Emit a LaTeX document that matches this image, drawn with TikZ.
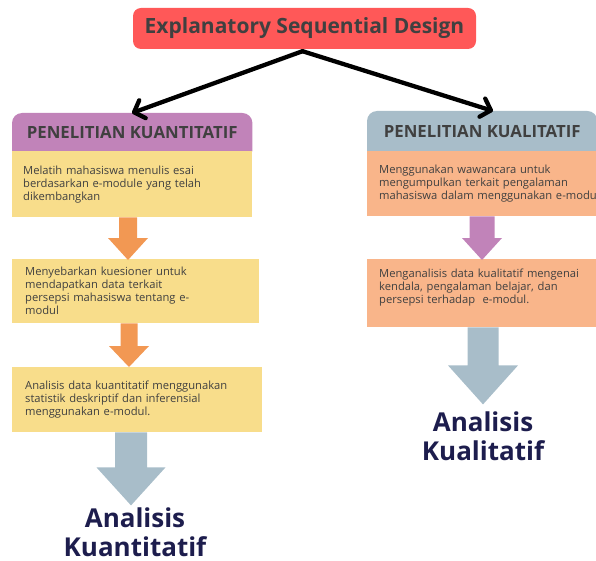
\documentclass[tikz,border=0pt]{standalone}
\usepackage{fontspec}
\setmainfont{Open Sans}
\usetikzlibrary{calc,arrows.meta,backgrounds}
\definecolor{titlered}{HTML}{FF5858}
\definecolor{txtgray}{HTML}{404040}
\definecolor{purp}{HTML}{C183B9}
\definecolor{yel}{HTML}{F8DD8B}
\definecolor{bluegray}{HTML}{A8BDC9}
\definecolor{peach}{HTML}{F9B58A}
\definecolor{orangearr}{HTML}{F29853}
\definecolor{navy}{HTML}{1D1D4D}
\newcommand{\blockarrow}[6]{%
  \fill[#6] let \p1=(#1),\p2=(#2) in
    (\x2-#3pt,\y1) -- (\x2+#3pt,\y1) -- (\x2+#3pt,\y2+#5pt) -- (\x2+#4pt,\y2+#5pt)
    -- (\x2,\y2) -- (\x2-#4pt,\y2+#5pt) -- (\x2-#3pt,\y2+#5pt) -- cycle;}
\tikzset{
  titlebox/.style={fill=titlered, rounded corners=8pt, text=txtgray,
    font=\fontsize{21}{24}\selectfont\bfseries, inner sep=0pt},
  hdrtext/.style={text=txtgray, font=\fontsize{16.8}{19}\selectfont\bfseries,
    inner sep=0pt, anchor=north west},
  stepbox/.style={anchor=north west, align=left, text=txtgray,
    font=\fontsize{11.2}{13}\selectfont, inner ysep=0pt},
  bigtxt/.style={text=navy, font=\fontsize{26}{28.5}\selectfont\bfseries, align=center, inner sep=0pt},
  mainarrow/.style={line width=4.3pt, line cap=round, line join=round,
    -{Straight Barb[length=9pt,width=19pt,line cap=round,line join=round]}}
}
\begin{document}
\begin{tikzpicture}[x=1pt,y=-1pt]
\useasboundingbox (0,0) rectangle (596,561);
\clip (0,0) rectangle (596,561);

% title
\node[titlebox, minimum width=343pt, minimum height=41pt] (title) at (304.5,28.5) {Explanatory Sequential Design};

% headers
\node[hdrtext, minimum width=240pt, minimum height=38pt] (lh) at (12,113) {PENELITIAN KUANTITATIF};
\node[hdrtext, minimum width=230pt, minimum height=40pt] (rh) at (367,111) {PENELITIAN KUALITATIF};
\begin{scope}[on background layer]
\fill[purp] (lh.south west) [rounded corners=10pt] -- (lh.north west) -- (lh.north east) [sharp corners] -- (lh.south east) -- cycle;
\fill[bluegray] (rh.south west) [rounded corners=10pt] -- (rh.north west) -- (rh.north east) [sharp corners] -- (rh.south east) -- cycle;
\end{scope}

% left column
\node[stepbox, fill=yel, inner xsep=11pt, text width=218pt, minimum height=66pt] (l1) at (12,151)
  {Melatih mahasiswa menulis esai\\berdasarkan e-module yang telah\\dikembangkan};
\node[stepbox, fill=yel, inner xsep=13pt, text width=221pt, minimum height=64pt] (l2) at (12,259)
  {Menyebarkan kuesioner untuk\\mendapatkan data terkait\\persepsi mahasiswa tentang e-\\modul};
\node[stepbox, fill=yel, inner xsep=13pt, text width=224pt, minimum height=65pt] (l3) at (12,367)
  {Analisis data kuantitatif menggunakan\\statistik deskriptif dan inferensial\\menggunakan e-modul.};

% right column
\node[stepbox, fill=peach, inner xsep=12pt, text width=250pt, minimum height=65pt] (r1) at (367,151)
  {Menggunakan wawancara untuk\\mengumpulkan terkait pengalaman\\mahasiswa dalam menggunakan e-modul};
\node[stepbox, fill=peach, inner xsep=12pt, text width=250pt, minimum height=68pt] (r2) at (367,259)
  {Menganalisis data kualitatif mengenai\\kendala, pengalaman belajar, dan\\persepsi terhadap\ \ e-modul.\\\mbox{}};

% black arrows
\coordinate (split) at ($(title.south)+(-2,2)$);
\draw[mainarrow] (split) -- ($(lh.north west)+(120,0)$);
\draw[mainarrow] (split) -- ($(rh.north west)+(126,0)$);

% block arrows
\blockarrow{l1.south}{$(l2.north west)+(116,1)$}{9}{20}{22}{orangearr}
\blockarrow{l2.south}{$(l3.north west)+(117,0)$}{8.5}{20}{21}{orangearr}
\blockarrow{l3.south}{$(l3.south west)+(119,73)$}{16}{34.5}{38}{bluegray}
\blockarrow{r1.south}{$(r2.north west)+(115,1)$}{12.5}{20}{22}{purp}
\blockarrow{r2.south}{$(r2.south west)+(116,77)$}{15.5}{35}{39}{bluegray}

% results
\node[bigtxt] (lres) at (135,532) {Analisis\\Kuantitatif};
\node[bigtxt] (rres) at (483,436) {Analisis\\Kualitatif};
\end{tikzpicture}
\end{document}
